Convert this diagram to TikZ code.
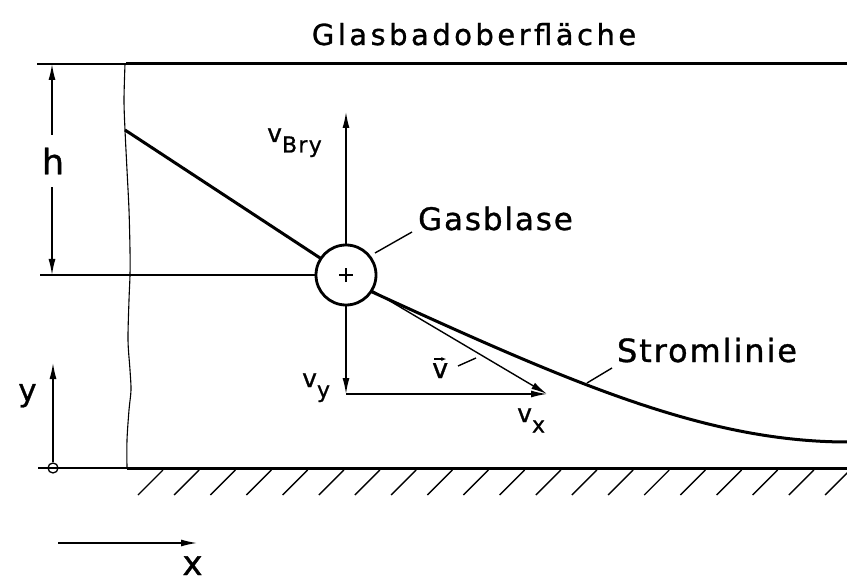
\documentclass[tikz,border=0pt]{standalone}
\usepackage{fontspec}
\setmainfont{DejaVu Sans}
\newfontfamily\lblfont[LetterSpace=6,FakeBold=1]{DejaVu Sans}
\newfontfamily\ttlfont[LetterSpace=12,FakeBold=1]{DejaVu Sans}
\usetikzlibrary{arrows.meta}
\newcommand\subtx[1]{\raisebox{-0.42em}{\fontsize{22}{24}\selectfont #1}}
\begin{document}
\begin{tikzpicture}[x=1pt,y=-1pt,
  thk/.style={line width=3pt},
  thn/.style={line width=1.4pt},
  arr/.style={thn,-{Latex[length=16pt,width=7pt]}},
  lbl/.style={inner sep=0pt, font=\lblfont\fontsize{#1}{#1}\selectfont},
  ttl/.style={inner sep=0pt, font=\ttlfont\fontsize{29}{29}\selectfont},
]
\useasboundingbox (0,0) rectangle (847,583);
\fill[white] (0,0) rectangle (847,583);

% walls
\draw[thn] (37,64) -- (126,64);
\draw[thk] (126,64) -- (847,64);
\draw[thn] (38,468) -- (127,468);
\draw[thk] (127,468) -- (847,468);

% wavy boundary
\draw[line width=1.1pt] plot[smooth] coordinates {(125,64) (124,100) (125,130) (127,170) (129,210) (130,250) (130,275) (129,300) (128,340) (130,370) (131,390) (129,410) (127,440) (127,468)};

% hatching
\begin{scope}
\clip (0,0) rectangle (847,583);
\foreach \k in {0,...,19}
  \draw[thn] ({138+36.16*\k},495) -- ({163+36.16*\k},470);
\end{scope}

% title
\node[ttl, anchor=base] (title) at (474,45) {Glasbadoberfläche};

% dimension h
\node[lbl=35, minimum height=52pt] (h) at (53,161) {h};
\coordinate (hTop) at (52,64);
\coordinate (hBot) at (52,275);
\draw[arr] (h.north -| hTop) -- (hTop);
\draw[arr] (h.south -| hBot) -- (hBot);

% streamline
\draw[thk] (125,130) -- (346,275);
\draw[thk] (346,280) .. controls (560,378) and (700,442) .. (848,442);

% bubble
\node[circle, draw, line width=2.8pt, minimum size=60pt, inner sep=0pt, fill=white] (bub) at (346,275) {};
\draw[line width=1.2pt] ([xshift=-7pt]bub.center) -- ([xshift=7pt]bub.center);
\draw[line width=1.2pt] ([yshift=-7pt]bub.center) -- ([yshift=7pt]bub.center);

% horizontal reference line
\coordinate (hl) at (40,275);
\draw[thn] (bub) -- (hl);

% velocity arrows
\coordinate (bryTip) at (346,112);
\coordinate (vyTip) at (346,394);
\coordinate (vxTip) at (547,394);
\draw[arr] (bub) -- (bryTip);
\draw[arr] (bub) -- (vyTip);
\draw[arr] (vyTip) -- (vxTip);
\draw[arr] (bub) -- (vxTip);

% velocity labels
\node[lbl=25, anchor=base west] (vbry) at (267,142) {v\subtx{Bry}};
\node[lbl=25, anchor=base west] (vy) at (302,387) {v\subtx{y}};
\node[lbl=25, anchor=base west] (vx) at (517,422) {v\subtx{x}};
\node[lbl=27, anchor=base west] (vv) at (432,378) {v};
\draw[line width=1.1pt,-{Latex[length=5pt,width=4pt]}] ([xshift=2pt,yshift=4pt]vv.north west) -- ([xshift=-2pt,yshift=4pt]vv.north east);
\coordinate (vl1) at (458,366);
\coordinate (vl2) at (476,358);
\draw[thn] (vl1) -- (vl2);

% Gasblase
\node[lbl=31, anchor=base west] (gas) at (418,230) {Gasblase};
\coordinate (gl1) at (375,253);
\coordinate (gl2) at (412,232);
\draw[thn] (gl1) -- (gl2);

% Stromlinie
\node[lbl=32, anchor=base] (strom) at (707,362) {Stromlinie};
\coordinate (sl1) at (587,383);
\coordinate (sl2) at (612,368);
\draw[thn] (sl1) -- (sl2);

% axes
\node[circle, draw, line width=1.3pt, minimum size=10pt, inner sep=0pt] (orig) at (53,468) {};
\coordinate (yTip) at (53,363);
\draw[arr] (orig) -- (yTip);
\node[lbl=31, anchor=base] (ylab) at (27.5,401) {y};
\coordinate (xStart) at (58,543);
\coordinate (xTip) at (197,543);
\draw[arr] (xStart) -- (xTip);
\node[lbl=34, anchor=base] (xlab) at (192.5,575) {x};
\end{tikzpicture}
\end{document}
